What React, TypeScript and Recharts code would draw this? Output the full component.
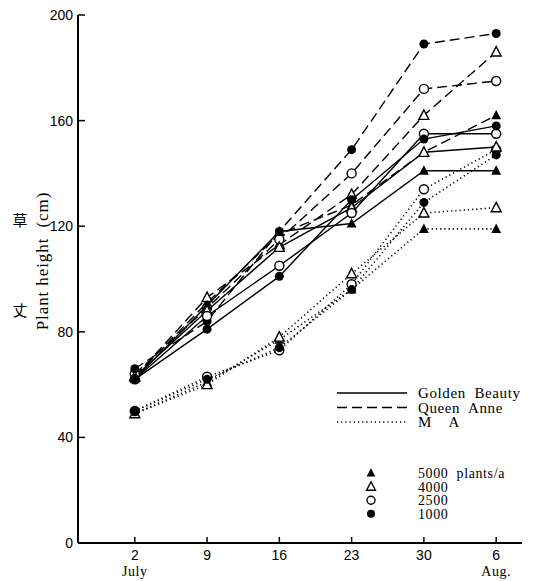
import React from "react";
import { LineChart, Line, XAxis, YAxis } from "recharts";

// sampling dates, counted in days from 1 July (Aug 6 = 37)
const days = [2, 9, 16, 23, 30, 37];
const dayLabels = ["2", "9", "16", "23", "30", "6"];
const monthLabels = ["July", "", "", "", "", "Aug."];
const heightTicks = [0, 40, 80, 120, 160, 200];

// plant height (cm) — Golden Beauty
const gb1000 = [62, 81, 101, 130, 153, 158];
const gb2500 = [62, 86, 105, 125, 155, 155];
const gb4000 = [63, 88, 112, 127, 148, 150];
const gb5000 = [62, 90, 118, 121, 141, 141];

// Queen Anne
const qa1000 = [66, 84, 118, 149, 189, 193];
const qa2500 = [64, 89, 115, 140, 172, 175];
const qa4000 = [63, 93, 113, 132, 162, 186];
const qa5000 = [63, 91, 117, 128, 148, 162];

// M A
const ma1000 = [50, 62, 74, 96, 129, 147];
const ma2500 = [50, 63, 73, 98, 134, 149];
const ma4000 = [49, 60, 78, 102, 125, 127];
const ma5000 = [49, 61, 77, 96, 119, 119];

const seriesValues: Record<string, number[]> = {
  gb1000, gb2500, gb4000, gb5000,
  qa1000, qa2500, qa4000, qa5000,
  ma1000, ma2500, ma4000, ma5000,
};

const data = days.map((day, i) => {
  const row: Record<string, number> = { day };
  Object.keys(seriesValues).forEach((k) => {
    row[k] = seriesValues[k][i];
  });
  return row;
});

type Shape = "fTri" | "oTri" | "oCirc" | "fCirc";

const densities: { key: string; label: string; shape: Shape }[] = [
  { key: "5000", label: "5000  plants/a", shape: "fTri" },
  { key: "4000", label: "4000", shape: "oTri" },
  { key: "2500", label: "2500", shape: "oCirc" },
  { key: "1000", label: "1000", shape: "fCirc" },
];

const varieties = [
  { prefix: "ma", name: "M    A", dash: "1.2 3" },
  { prefix: "qa", name: "Queen  Anne", dash: "10 5" },
  { prefix: "gb", name: "Golden  Beauty", dash: undefined as string | undefined },
];

const SERIF = "'Liberation Serif', 'DejaVu Serif', serif";
const SANS = "'Liberation Sans Narrow', 'Liberation Sans', Arial, sans-serif";
const PRE = { whiteSpace: "pre" as const };

function Marker({ cx, cy, shape, r = 4.5 }: { cx: number; cy: number; shape: Shape; r?: number }) {
  if (cx == null || cy == null) return null;
  if (shape === "fCirc") return <circle cx={cx} cy={cy} r={r} fill="#000" />;
  if (shape === "oCirc") return <circle cx={cx} cy={cy} r={r} fill="#fff" stroke="#000" strokeWidth={1.4} />;
  const h = r * 2;
  const pts = `${cx},${cy - h * 0.6} ${cx - r * 1.1},${cy + h * 0.45} ${cx + r * 1.1},${cy + h * 0.45}`;
  return shape === "fTri" ? (
    <polygon points={pts} fill="#000" />
  ) : (
    <polygon points={pts} fill="#fff" stroke="#000" strokeWidth={1.4} />
  );
}

const YTick = (props: any) => {
  const { x, y, payload } = props;
  return (
    <g>
      <line x1={x + 4} x2={x + 11} y1={y} y2={y} stroke="#000" strokeWidth={1.5} />
      <text x={x - 1} y={y} dy={5} textAnchor="end" fontFamily={SANS} fontSize={14} fill="#000">
        {payload.value}
      </text>
    </g>
  );
};

const XTick = (props: any) => {
  const { x, y, payload } = props;
  const i = days.indexOf(payload.value);
  return (
    <g>
      <line x1={x} x2={x} y1={y - 4} y2={y - 10} stroke="#000" strokeWidth={1.5} />
      <text x={x} y={y + 13} textAnchor="middle" fontFamily={SANS} fontSize={14} fill="#000">
        {dayLabels[i]}
      </text>
      {monthLabels[i] && (
        <text x={x} y={y + 29} textAnchor="middle" fontFamily={SERIF} fontSize={14} fill="#000" letterSpacing={0.5}>
          {monthLabels[i]}
        </text>
      )}
    </g>
  );
};

const YLabel = (props: any) => {
  const { viewBox } = props;
  const x0 = viewBox.x;
  return (
    <g fontFamily={SERIF} fill="#000">
      <text x={x0 - 18} y={226} textAnchor="middle" fontSize={15} fontFamily="'Noto Sans CJK JP', sans-serif">
        草
      </text>
      <text x={x0 - 18} y={316} textAnchor="middle" fontSize={15} fontFamily="'Noto Sans CJK JP', sans-serif">
        丈
      </text>
      <text
        x={x0 + 10}
        y={261}
        transform={`rotate(-90 ${x0 + 10} 261)`}
        textAnchor="middle"
        fontSize={17}
        letterSpacing={0.9}
        style={PRE}
      >
        Plant height  (cm)
      </text>
    </g>
  );
};

// key for line styles (varieties) and markers (planting density)
const LegendBox = () => (
  <svg width={210} height={140} style={{ position: "absolute", left: 335, top: 385 }}>
    <g fontFamily={SERIF} fill="#000" letterSpacing={0.6}>
      {[...varieties].reverse().map((v, i) => (
        <g key={v.prefix}>
          <line x1={2} x2={72} y1={8 + i * 14.5} y2={8 + i * 14.5} stroke="#000" strokeWidth={1.4} strokeDasharray={v.dash} />
          <text x={83} y={13 + i * 14.5} fontSize={15} style={PRE}>{v.name}</text>
        </g>
      ))}
      {densities.map((d, i) => (
        <g key={d.key}>
          <Marker cx={36} cy={88 + i * 13.6} shape={d.shape} r={4} />
          <text x={83} y={93 + i * 13.6} fontSize={14} style={PRE}>{d.label}</text>
        </g>
      ))}
    </g>
  </svg>
);

export default function App() {
  return (
    <div style={{ position: "absolute", left: 0, top: 0, width: 549, height: 581, background: "#fff" }}>
      <LineChart width={549} height={581} data={data} margin={{ top: 15, right: 27, left: 38, bottom: 0 }}>
        <XAxis
          dataKey="day"
          type="number"
          domain={[-3.5, 39.5]}
          ticks={days}
          tickSize={0}
          tickMargin={4}
          height={38}
          tick={<XTick />}
          axisLine={{ stroke: "#000", strokeWidth: 2 }}
          tickLine={false}
        />
        <YAxis
          domain={[0, 200]}
          ticks={heightTicks}
          width={40}
          tickSize={0}
          tickMargin={4}
          tick={<YTick />}
          axisLine={{ stroke: "#000", strokeWidth: 2 }}
          tickLine={false}
          label={<YLabel />}
        />
        {varieties.map((v) =>
          densities.map((d) => (
            <Line
              key={v.prefix + d.key}
              dataKey={v.prefix + d.key}
              type="linear"
              stroke="#000"
              strokeWidth={v.dash === "1.2 3" ? 1.6 : 1.4}
              strokeDasharray={v.dash}
              isAnimationActive={false}
              dot={(p: any) => <Marker key={`${v.prefix}${d.key}-${p.index}`} cx={p.cx} cy={p.cy} shape={d.shape} />}
              activeDot={false}
            />
          ))
        )}
      </LineChart>
      <LegendBox />
    </div>
  );
}
